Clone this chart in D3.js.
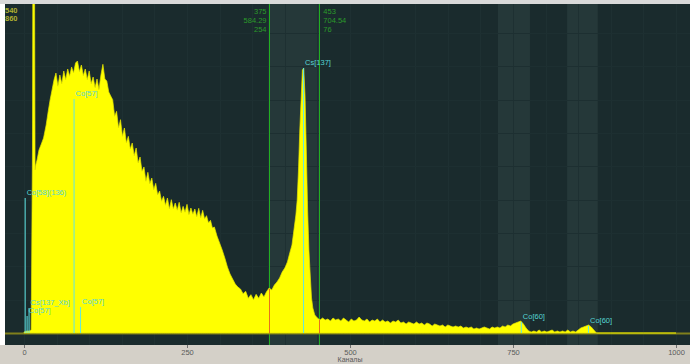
<!DOCTYPE html>
<html>
<head>
<meta charset="utf-8">
<script src="https://cdn.jsdelivr.net/npm/d3@7"></script>
<style>
  html, body { margin: 0; padding: 0; background: #ffffff; }
  svg { display: block; font-family: "Liberation Sans", Arial, sans-serif; }
</style>
</head>
<body>
<svg id="chart" width="690" height="364"></svg>
<script>
// Gamma spectrum: counts per channel (sampled channels)
const channels = [
  0, 4, 8, 11, 13, 14, 15, 16, 17, 18,
  20, 23, 26, 30, 34, 37, 40, 43, 46, 49,
  52, 55, 58, 61, 64, 67, 70, 73, 76, 79,
  82, 85, 88, 91, 94, 97, 100, 103, 106, 109,
  112, 115, 118, 121, 124, 127, 130, 133, 136, 139,
  142, 145, 148, 151, 154, 157, 160, 163, 166, 169,
  172, 175, 178, 181, 184, 187, 190, 193, 196, 199,
  202, 205, 208, 211, 214, 217, 220, 223, 226, 229,
  232, 235, 238, 241, 244, 247, 250, 253, 256, 259,
  262, 265, 268, 271, 274, 277, 280, 283, 286, 289,
  292, 296, 300, 304, 308, 312, 316, 320, 324, 328,
  332, 336, 340, 344, 348, 352, 356, 360, 364, 368,
  372, 376, 380, 384, 388, 392, 396, 400, 404, 408,
  411, 414, 417, 419, 421, 423, 425, 427, 429, 431,
  433, 435, 437, 439, 441, 443, 446, 450, 454, 458,
  462, 466,
  470, 474, 478, 482, 486, 490, 494, 498, 502, 506,
  510, 514, 518, 522, 526, 530, 534, 538, 542, 546,
  550, 554, 558, 562, 566, 570, 574, 578, 582, 586,
  590, 594, 598, 602, 606, 610, 614, 618, 622, 626,
  630, 634, 638, 642, 646, 650, 654, 658, 662, 666,
  670, 674, 678, 682, 686, 690, 694, 698, 702, 706,
  710, 714, 718, 722, 726, 730, 734, 738, 742, 746,
  750, 754, 758, 762, 766, 770, 774, 778, 782, 786,
  790, 794, 798, 802, 806, 810, 814, 818, 822, 826,
  830, 834, 838, 842, 846, 850, 854, 858, 862, 866,
  870, 874, 878, 900, 950, 1000
];
const counts = [
  3, 6, 6, 9, 549, 1500, 1500, 1200, 489, 504,
  519, 549, 564, 585, 624, 663, 699, 729, 759, 780,
  740, 774, 748, 786, 760, 792, 770, 798, 780, 810,
  816, 784, 804, 772, 792, 760, 786, 748, 768, 736,
  762, 730, 774, 806, 762, 756, 723, 711, 700, 650,
  665, 615, 640, 590, 615, 570, 590, 552, 570, 532,
  555, 510, 528, 485, 498, 455, 482, 448, 465, 430,
  449, 414, 426, 395, 410, 383, 405, 372, 400, 372,
  390, 368, 392, 360, 380, 362, 386, 355, 375, 356,
  372, 348, 374, 345, 368, 342, 352, 330, 338, 315,
  318, 291, 270, 249, 225, 198, 177, 162, 147, 138,
  132, 118, 125, 104, 115, 100, 116, 104, 120, 108,
  124, 135, 129, 144, 153, 165, 183, 195, 213, 243,
  264, 309, 354, 399, 489, 609, 699, 789, 795, 714,
  549, 369, 249, 174, 105, 75, 54, 45, 39, 45,
  39, 42,
  36, 45, 39, 42, 36, 45, 39, 33, 42, 36,
  39, 48, 39, 36, 42, 33, 39, 36, 42, 33,
  39, 33, 36, 30, 36, 33, 39, 30, 33, 27,
  33, 30, 27, 33, 27, 30, 24, 30, 27, 21,
  27, 24, 21, 24, 18, 24, 21, 18, 21, 18,
  21, 15, 18, 15, 18, 12, 15, 12, 15, 18,
  15, 12, 18, 15, 18, 15, 21, 18, 24, 21,
  27, 30, 33, 36, 27, 15, 6, 3, 6, 3,
  9, 3, 6, 3, 6, 9, 3, 6, 3, 6,
  3, 9, 3, 6, 3, 9, 15, 18, 21, 24,
  18, 9, 0, 0, 0, 0
];

// Identified peaks: marker channel, marker height (counts), nuclide label
const peakChannels = [1, 4, 7, 76, 86, 428, 762, 865];
const peakHeights  = [405, 51, 75, 702, 78, 795, 33, 21];
const peakLabels   = ["Co[58](136)", "Co[57]", "Cs[137_Xb]", "Co[57]", "Co[57]", "Cs[137]", "Co[60]", "Co[60]"];

// Regions of interest (channel ranges)
const roiStart = [375, 727, 833];
const roiEnd   = [453, 776, 880];

// Cursor readouts
const cursorChannels = [375, 453];
const cursorLeftText  = ["375", "584.29", "254"];
const cursorRightText = ["453", "704.54", "76"];
const cornerText = ["540", "860"];

const xTicks = [0, 250, 500, 750, 1000];
const xTitle = "Каналы";

const svg = d3.select("#chart");
const W = 690, H = 364;
const plotLeft = 5, plotTop = 4, plotBottom = 345;

const x = d3.scaleLinear().domain([0, 1000]).range([24, 676]);
const y = d3.scaleLinear().domain([0, 984]).range([333, 5]);

// Frame: top strip, plot background, bottom axis band
svg.append("rect").attr("x", 0).attr("y", 0).attr("width", W).attr("height", H).attr("fill", "#ffffff");
svg.append("rect").attr("x", 0).attr("y", 0).attr("width", W).attr("height", plotTop).attr("fill", "#d9d9d9");
svg.append("rect").attr("x", plotLeft).attr("y", plotTop).attr("width", W - plotLeft).attr("height", plotBottom - plotTop).attr("fill", "#1a2b2d");
svg.append("rect").attr("x", 0).attr("y", plotBottom).attr("width", W).attr("height", H - plotBottom).attr("fill", "#d4d0c8");

const defs = svg.append("defs");
defs.append("clipPath").attr("id", "plotClip")
  .append("rect").attr("x", plotLeft).attr("y", plotTop).attr("width", W - plotLeft).attr("height", plotBottom - plotTop);

const plot = svg.append("g").attr("clip-path", "url(#plotClip)");

// ROI shading
plot.selectAll("rect.roi").data(roiStart).join("rect")
  .attr("class", "roi")
  .attr("x", (d) => x(d))
  .attr("y", plotTop)
  .attr("width", (d, i) => x(roiEnd[i]) - x(d))
  .attr("height", plotBottom - plotTop)
  .attr("fill", "#253839");

// Grid
const gridX = d3.range(-50, 1051, 50);
plot.selectAll("line.gx").data(gridX).join("line")
  .attr("x1", (d) => Math.round(x(d)) + 0.5).attr("x2", (d) => Math.round(x(d)) + 0.5)
  .attr("y1", plotTop).attr("y2", plotBottom)
  .attr("stroke", "#1e3032").attr("stroke-width", 1);
const gridY = d3.range(100, 984, 100);
plot.selectAll("line.gy").data(gridY).join("line")
  .attr("x1", plotLeft).attr("x2", W)
  .attr("y1", (d) => Math.round(y(d)) + 0.5).attr("y2", (d) => Math.round(y(d)) + 0.5)
  .attr("stroke", "#1d2f31").attr("stroke-width", 1);

// Cursor lines (the spectrum is drawn over them)
plot.selectAll("line.cg").data(cursorChannels).join("line")
  .attr("x1", (d) => Math.round(x(d)) + 0.5).attr("x2", (d) => Math.round(x(d)) + 0.5)
  .attr("y1", plotTop).attr("y2", plotBottom)
  .attr("stroke", "#22b022").attr("stroke-width", 1);

// Baseline
plot.append("line")
  .attr("x1", plotLeft).attr("x2", W)
  .attr("y1", y(0) + 0.5).attr("y2", y(0) + 0.5)
  .attr("stroke", "#80801c").attr("stroke-width", 2);

// Spectrum
const spectrum = channels.map((c, i) => ({ c, v: counts[i] ?? 0 }));
const area = d3.area()
  .x((d) => x(d.c))
  .y0(y(0))
  .y1((d) => y(d.v));
plot.append("path")
  .datum(spectrum)
  .attr("d", area)
  .attr("fill", "#ffff00")
  .attr("stroke", "#e4e400")
  .attr("stroke-width", 0.7);

// Value at a channel, linearly
function countAt(ch) {
  const i = d3.bisector((d) => d.c).left(spectrum, ch);
  if (i <= 0) return spectrum[0].v;
  const a = spectrum[i - 1], b = spectrum[i];
  return a.v + (b.v - a.v) * (ch - a.c) / (b.c - a.c);
}

// Cursor markers inside the spectrum
plot.selectAll("line.cur").data(cursorChannels).join("line")
  .attr("x1", (d) => Math.round(x(d)) + 0.5).attr("x2", (d) => Math.round(x(d)) + 0.5)
  .attr("y1", (d) => y(countAt(d))).attr("y2", y(0))
  .attr("stroke", "#e8701c").attr("stroke-width", 1);

// Peak markers
plot.selectAll("line.pk").data(peakChannels).join("line")
  .attr("x1", (d) => x(d) + 0.5).attr("x2", (d) => x(d) + 0.5)
  .attr("y1", (d, i) => y(peakHeights[i])).attr("y2", y(0))
  .attr("stroke", "#5fe6e6").attr("stroke-width", 1);
plot.selectAll("text.pk").data(peakChannels).join("text")
  .attr("x", (d) => x(d) + 2)
  .attr("y", (d, i) => y(peakHeights[i]) - 3)
  .attr("font-size", 7.5)
  .attr("fill", "#55d4d4")
  .text((d, i) => peakLabels[i]);

// Cursor readouts
plot.selectAll("text.cl").data(cursorLeftText).join("text")
  .attr("x", x(cursorChannels[0]) - 2)
  .attr("y", (d, i) => 14 + i * 9)
  .attr("text-anchor", "end")
  .attr("font-size", 7.5)
  .attr("fill", "#2a9a2a")
  .text((d) => d);
plot.selectAll("text.cr").data(cursorRightText).join("text")
  .attr("x", x(cursorChannels[1]) + 4)
  .attr("y", (d, i) => 14 + i * 9)
  .attr("font-size", 7.5)
  .attr("fill", "#2a9a2a")
  .text((d) => d);

plot.selectAll("text.corner").data(cornerText).join("text")
  .attr("x", 5)
  .attr("y", (d, i) => 13 + i * 8)
  .attr("font-size", 7.5)
  .attr("font-weight", "bold")
  .attr("fill", "#b0b030")
  .text((d) => d);

// Channel axis
const axis = d3.axisBottom(x).tickValues(xTicks).tickSize(3).tickPadding(2).tickFormat(d3.format("d"));
const gAxis = svg.append("g").attr("transform", `translate(0,${plotBottom})`).call(axis);
gAxis.select(".domain").remove();
gAxis.selectAll(".tick line").attr("stroke", "#707070");
gAxis.selectAll(".tick text").attr("fill", "#5a5a5a").attr("font-size", 7.5).attr("font-family", "Liberation Sans, Arial, sans-serif");

svg.append("text")
  .attr("x", x(500))
  .attr("y", 362)
  .attr("text-anchor", "middle")
  .attr("font-size", 7)
  .attr("fill", "#5a5a5a")
  .text(xTitle);
</script>
</body>
</html>
